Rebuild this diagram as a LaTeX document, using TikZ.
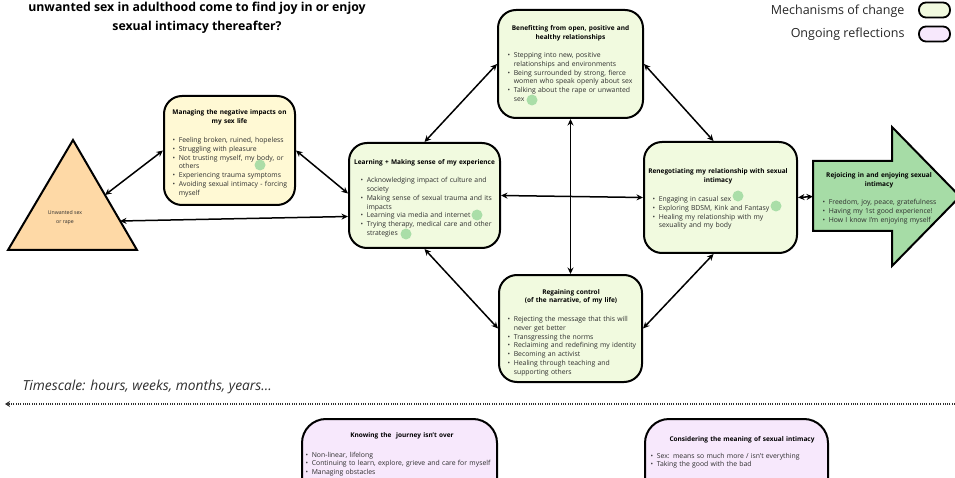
\documentclass[tikz,border=0pt]{standalone}
\usepackage{fontspec}
\setmainfont{Open Sans}
\usetikzlibrary{arrows.meta,calc}

\definecolor{mechfill}{HTML}{F1FADF}
\definecolor{harmfill}{HTML}{FFF9D4}
\definecolor{reflfill}{HTML}{F7E8FC}
\definecolor{peach}{HTML}{FED9A6}
\definecolor{joygreen}{HTML}{A6DCA6}
\definecolor{dotgreen}{HTML}{A3DBA3}
\definecolor{ink}{HTML}{2E2E2E}

\newlength\bulw
\setlength\bulw{6.8pt}
% a bullet line, and a continuation line set under its text
\newcommand\itm[1]{\par\noindent\hbox to\bulw{\hskip0.6pt\textbullet\hss}\mbox{#1}}
\newcommand\cnt[1]{\par\noindent\hspace*{\bulw}\mbox{#1}}
% one centred bold heading line
\newcommand\ttl[1]{\par\noindent\makebox[\linewidth]{\color{black}\fontsize{6.5}{9}\selectfont\bfseries #1}}

\tikzset{
  box/.style={draw=black, line width=2pt, rounded corners=18pt, inner sep=0pt},
  mech/.style={box, fill=mechfill},
  harm/.style={box, fill=harmfill},
  refl/.style={box, fill=reflfill, rounded corners=24pt},
  txt/.style={anchor=north, inner sep=0pt, text=ink,
    font=\fontsize{6.85}{8.8}\selectfont},
  dbl/.style={{Stealth[length=6.5pt,width=6pt]}-{Stealth[length=6.5pt,width=6pt]}, line width=1.5pt},
  hit/.style={fill=dotgreen, fill opacity=0.9, draw=none},
  keybox/.style={draw=black, line width=1.8pt, rounded corners=7pt, minimum width=31pt, minimum height=15pt, inner sep=0pt},
}

\begin{document}
\begin{tikzpicture}[x=1pt,y=-1pt]
\useasboundingbox (0,0) rectangle (955,478);

% heading
\node[anchor=base, font=\fontsize{12.3}{19}\selectfont\bfseries, align=center] (head) at (197,30.5)
  {unwanted sex in adulthood come to find joy in or enjoy\\sexual intimacy thereafter?};

% legend
\node[keybox, fill=mechfill] (keyM) at (934.5,10) {};
\node[keybox, fill=reflfill] (keyR) at (934.5,34) {};
\node[anchor=base east, font=\fontsize{12.5}{14}\selectfont, text=black!85] (keyMT) at (908,15) {Mechanisms of change};
\node[anchor=base east, font=\fontsize{12.5}{14}\selectfont, text=black!85] (keyRT) at (908,38) {Ongoing reflections};

% the starting event
\path[draw=black, fill=peach, line width=2pt, line join=miter] (73,140) -- (137,250) -- (8,250) -- cycle;
\coordinate (triA) at (105,195);
\coordinate (triB) at (120,221);
\node[align=center, inner sep=0pt, text=ink, font=\fontsize{5.2}{9}\selectfont] (triT) at (65,218) {Unwanted sex\\or rape};

% boxes
\node[harm, minimum width=131pt, minimum height=109pt] (manage) at (229.5,150.5) {};
\node[mech, minimum width=151pt, minimum height=105pt] (learn) at (424.5,195.5) {};
\node[mech, minimum width=145pt, minimum height=108pt] (benefit) at (570.5,64) {};
\node[mech, minimum width=153pt, minimum height=111pt] (reneg) at (720.5,197.5) {};
\node[mech, minimum width=143pt, minimum height=107pt] (regain) at (570.5,328.5) {};
\node[refl, minimum width=195pt, minimum height=90pt, anchor=north] (know) at (399.5,418) {};
\node[refl, minimum width=183pt, minimum height=90pt, anchor=north] (consider) at (736.5,418) {};

% the outcome arrow
\path[draw=black, fill=joygreen, line width=2pt, line join=miter]
  (813,161) -- (892,161) -- (892,127) -- (960,196.5) -- (892,266) -- (892,231) -- (813,231) -- cycle;
\coordinate (rejoiceW) at (813,196.5);

% texts
\node[txt, text width=115pt] (manageT) at (229.5,106) {
  \ttl{Managing the negative impacts on}\ttl{my sex life}\par\vspace{10pt}
  \itm{Feeling broken, ruined, hopeless}
  \itm{Struggling with pleasure}
  \itm{Not trusting myself, my body, or}\cnt{others}
  \itm{Experiencing trauma symptoms}
  \itm{Avoiding sexual intimacy - forcing}\cnt{myself}\par};

\node[txt, text width=129pt] (learnT) at (424.5,156) {
  \ttl{Learning + Making sense of my experience}\par\vspace{9pt}
  \itm{Acknowledging impact of culture and}\cnt{society}
  \itm{Making sense of sexual trauma and its}\cnt{impacts}
  \itm{Learning via media and internet}
  \itm{Trying therapy, medical care and other}\cnt{strategies}\par};

\node[txt, text width=127pt] (benefitT) at (570.5,22) {
  \ttl{Benefitting from open, positive and}\ttl{healthy relationships}\par\vspace{9pt}
  \itm{Stepping into new, positive}\cnt{relationships and environments}
  \itm{Being surrounded by strong, fierce}\cnt{women who speak openly about sex}
  \itm{Talking about the rape or unwanted}\cnt{sex}\par};

\node[txt, text width=132pt] (renegT) at (718,165) {
  \ttl{Renegotiating my relationship with sexual}\ttl{intimacy}\par\vspace{10pt}
  \itm{Engaging in casual sex}
  \itm{Exploring BDSM, Kink and Fantasy}
  \itm{Healing my relationship with my}\cnt{sexuality and my body}\par};

\node[txt, text width=128pt] (regainT) at (571,285) {
  \ttl{Regaining control}\ttl{(of the narrative, of my life)}\par\vspace{10pt}
  \itm{Rejecting the message that this will}\cnt{never get better}
  \itm{Transgressing the norms}
  \itm{Reclaiming and redefining my identity}
  \itm{Becoming an activist}
  \itm{Healing through teaching and}\cnt{supporting others}\par};

\node[txt, text width=114pt] (rejoiceT) at (879,169) {
  \ttl{Rejoicing in and enjoying sexual}\ttl{intimacy}\par\vspace{9pt}
  \itm{Freedom, joy, peace, gratefulness}
  \itm{Having my 1st good experience!}
  \itm{How I know I'm enjoying myself}\par};

\node[txt, text width=194pt, font=\fontsize{6.85}{8.5}\selectfont] (knowT) at (402,429) {
  \ttl{Knowing the~ journey isn't over}\par\vspace{11pt}
  \itm{Non-linear, lifelong}
  \itm{Continuing to learn, explore, grieve and care for myself}
  \itm{Managing obstacles}\par};

\node[txt, text width=184pt, font=\fontsize{6.85}{8.5}\selectfont] (considerT) at (742,433) {
  \ttl{Considering the meaning of sexual intimacy}\par\vspace{8pt}
  \itm{Sex: means so much more / isn't everything}
  \itm{Taking the good with the bad}\par};

% highlight dots
\fill[hit] (260,165) circle (5.5);
\fill[hit] (477,215) circle (5.5);
\fill[hit] (406,234) circle (5.5);
\fill[hit] (532,100) circle (5.5);
\fill[hit] (738,196) circle (5.5);
\fill[hit] (776,206) circle (5.5);

% connectors
\draw[dbl] (triA) -- (manage.west);
\draw[dbl] (triB) -- ($(learn.west)+(0,21)$);
\draw[dbl] (manage.east) -- ($(learn.west)+(0,-2)$);
\draw[dbl] (learn.north) -- (benefit.west);
\draw[dbl] (learn.south) -- (regain.west);
\draw[dbl] (learn.east) -- (reneg.west);
\draw[dbl] (benefit.east) -- ($(reneg.north)+(-7,0)$);
\draw[dbl] (regain.east) -- ($(reneg.south)+(-7,0)$);
\draw[dbl] (benefit.south) -- (regain.north);
\draw[dbl] (reneg.east) -- (rejoiceW);

% time line
\node[anchor=base west, font=\fontsize{13.8}{15}\selectfont\itshape, text=ink] (tsT) at (19,390)
  {Timescale: hours, weeks, months, years...};
\coordinate (tsR) at (955,404);
\coordinate (tsL) at (5,404);
\draw[line width=2.2pt, draw=ink, dash pattern=on 1pt off 1.3pt, -{Stealth[length=5pt,width=6pt]}] (tsR) -- (tsL);
\end{tikzpicture}
\end{document}
